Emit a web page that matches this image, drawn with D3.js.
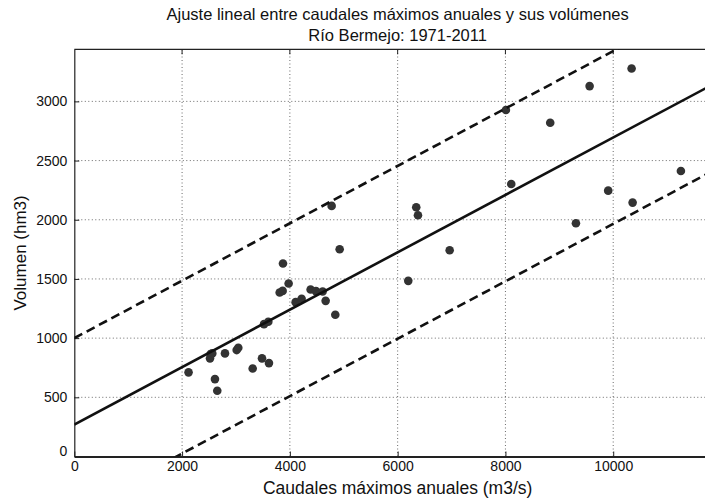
<!DOCTYPE html>
<html>
<head>
<meta charset="utf-8">
<script src="https://cdn.jsdelivr.net/npm/d3@7"></script>
<style>
  body { margin: 0; background: #fff; }
  svg { display: block; font-family: "Liberation Sans", Arial, sans-serif; }
</style>
</head>
<body>
<svg id="chart" width="705" height="498"></svg>
<script>
// Caudal maximo anual (m3/s) y volumen (hm3), Rio Bermejo 1971-2011
const caudal = [2120, 2518, 2530, 2560, 2610, 2653, 2796, 3013, 3043, 3310, 3483, 3612,
  3520, 3600, 3811, 3866, 3872, 3977, 4107, 4218, 4385, 4484, 4608, 4664, 4843, 4924,
  4775, 6345, 6377, 6197, 6965, 8009, 8108, 8831, 9562, 9308, 9907, 10341, 10360, 11256];
const volumen = [711, 829, 865, 871, 654, 555, 871, 899, 918, 744, 829, 789,
  1118, 1138, 1386, 1399, 1630, 1461, 1304, 1332, 1411, 1397, 1394, 1315, 1197, 1751,
  2117, 2105, 2038, 1484, 1743, 2927, 2302, 2820, 3129, 1970, 2246, 3278, 2145, 2412];

// recta de ajuste y bandas
const fitIntercept = 270;
const fitSlope = 0.2425;
const bandOffsets = [730, -730];

const xTicks = [0, 2000, 4000, 6000, 8000, 10000];
const yTicks = [0, 500, 1000, 1500, 2000, 2500, 3000];

const margin = { left: 74.3, top: 49.3, bottom: 456.5 };
const svg = d3.select('#chart');

const x = d3.scaleLinear().domain([0, 12000]).range([margin.left, 721]);
const y = d3.scaleLinear().domain([0, 3440]).range([margin.bottom, margin.top]);

svg.append('defs').append('clipPath').attr('id', 'plot-clip')
  .append('rect')
  .attr('x', x(0)).attr('y', y(3440))
  .attr('width', x(12000) - x(0)).attr('height', y(0) - y(3440));

// grid
const grid = svg.append('g').attr('stroke', '#444').attr('stroke-width', 0.8)
  .attr('stroke-dasharray', '1,2.5');
grid.selectAll('.gx').data(xTicks.slice(1)).join('line')
  .attr('x1', d => x(d)).attr('x2', d => x(d))
  .attr('y1', y(0)).attr('y2', y(3440));
grid.selectAll('.gy').data(yTicks.slice(1)).join('line')
  .attr('x1', x(0)).attr('x2', x(12000))
  .attr('y1', d => y(d)).attr('y2', d => y(d));

// axes
const fmt = d3.format('d');
const xAxis = svg.append('g').attr('transform', `translate(0,${y(0)})`)
  .call(d3.axisBottom(x).tickValues(xTicks).tickFormat(fmt)
    .tickSizeInner(-5).tickSizeOuter(0).tickPadding(5));
const yAxis = svg.append('g').attr('transform', `translate(${x(0)},0)`)
  .call(d3.axisLeft(y).tickValues(yTicks).tickFormat(fmt)
    .tickSizeInner(-5).tickSizeOuter(0).tickPadding(7));
[xAxis, yAxis].forEach(ax => {
  ax.selectAll('text').attr('font-size', 14).attr('fill', '#111')
    .attr('font-family', '"Liberation Sans", Arial, sans-serif');
  ax.selectAll('line').attr('stroke', '#222');
});
xAxis.selectAll('.tick text').attr('dy', '0.68em');
xAxis.select('.domain').attr('stroke', '#222').attr('stroke-width', 2.2);
yAxis.select('.domain').attr('stroke', '#222').attr('stroke-width', 1.2);
yAxis.selectAll('.tick text').attr('dy', '0.32em');
// y "0" sits a bit higher in the reference
yAxis.selectAll('.tick').filter(d => d === 0).select('text').attr('dy', '-0.1em');

// top edge of the box
svg.append('line').attr('x1', x(0)).attr('x2', x(12000))
  .attr('y1', y(3440)).attr('y2', y(3440)).attr('stroke', '#222').attr('stroke-width', 1.2);
// inward ticks on the top edge
svg.append('g').selectAll('line').data(xTicks.slice(1)).join('line')
  .attr('x1', d => x(d)).attr('x2', d => x(d))
  .attr('y1', y(3440)).attr('y2', y(3440) + 5).attr('stroke', '#222');

const plot = svg.append('g').attr('clip-path', 'url(#plot-clip)');

// points
plot.selectAll('circle').data(caudal).join('circle')
  .attr('cx', d => x(d))
  .attr('cy', (d, i) => y(volumen[i]))
  .attr('r', 4.3)
  .attr('fill', '#333');

// fit line and bands
const line = d3.line().x(d => x(d[0])).y(d => y(d[1]));
const ends = [0, 12000];
plot.append('path')
  .attr('d', line(ends.map(v => [v, fitIntercept + fitSlope * v])))
  .attr('fill', 'none').attr('stroke', '#111').attr('stroke-width', 2.6);
bandOffsets.forEach(off => {
  plot.append('path')
    .attr('d', line(ends.map(v => [v, fitIntercept + off + fitSlope * v])))
    .attr('fill', 'none').attr('stroke', '#111').attr('stroke-width', 2.6)
    .attr('stroke-dasharray', '9,5');
});

// titles
const cx = (x(0) + x(12000)) / 2;
svg.append('text').attr('x', cx).attr('y', 20).attr('text-anchor', 'middle')
  .attr('font-size', 16.5).attr('fill', '#111')
  .text('Ajuste lineal entre caudales máximos anuales y sus volúmenes');
svg.append('text').attr('x', cx).attr('y', 41).attr('text-anchor', 'middle')
  .attr('font-size', 16.5).attr('fill', '#111')
  .text('Río Bermejo: 1971-2011');
svg.append('text').attr('x', cx).attr('y', 494).attr('text-anchor', 'middle')
  .attr('font-size', 17.5).attr('fill', '#111')
  .text('Caudales máximos anuales (m3/s)');
svg.append('text')
  .attr('transform', `translate(26,${(y(0) + y(3440)) / 2}) rotate(-90)`)
  .attr('text-anchor', 'middle')
  .attr('font-size', 17).attr('fill', '#111')
  .text('Volumen (hm3)');
</script>
</body>
</html>
